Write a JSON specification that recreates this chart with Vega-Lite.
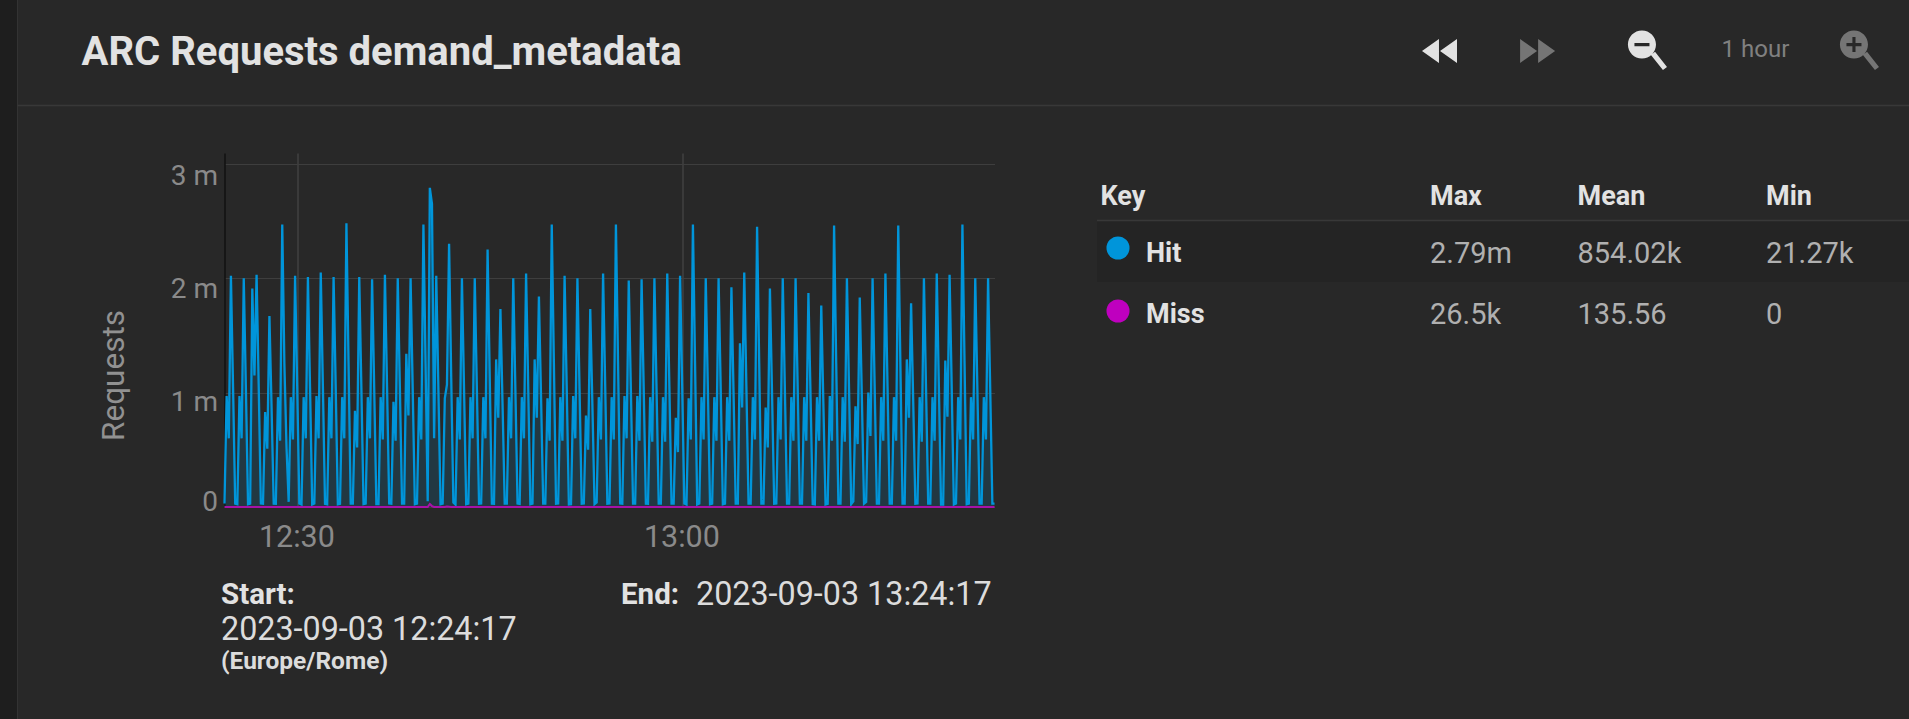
{"$schema":"https://vega.github.io/schema/vega-lite/v6.json","width":770,"height":354,"autosize":{"type":"none"},"padding":{"left":224.5,"top":153,"right":914.5,"bottom":212},"background":"#282828","view":{"stroke":null},"config":{"font":"Roboto"},
"datasets":{"series":[
{"t":"2023-09-03T12:24:17Z","hit":30000,"miss":0},{"t":"2023-09-03T12:24:27Z","hit":970000,"miss":0},{"t":"2023-09-03T12:24:37Z","hit":600000,"miss":0},{"t":"2023-09-03T12:24:47Z","hit":2020000,"miss":0},{"t":"2023-09-03T12:24:57Z","hit":1050000,"miss":0},{"t":"2023-09-03T12:25:07Z","hit":30000,"miss":0},
{"t":"2023-09-03T12:25:17Z","hit":25000,"miss":0},{"t":"2023-09-03T12:25:27Z","hit":970000,"miss":0},{"t":"2023-09-03T12:25:37Z","hit":600000,"miss":0},{"t":"2023-09-03T12:25:47Z","hit":2000000,"miss":0},{"t":"2023-09-03T12:25:57Z","hit":1040000,"miss":0},{"t":"2023-09-03T12:26:07Z","hit":24000,"miss":0},
{"t":"2023-09-03T12:26:17Z","hit":30000,"miss":0},{"t":"2023-09-03T12:26:27Z","hit":1910000,"miss":0},{"t":"2023-09-03T12:26:37Z","hit":1150000,"miss":0},{"t":"2023-09-03T12:26:47Z","hit":2030000,"miss":0},{"t":"2023-09-03T12:26:57Z","hit":1050000,"miss":0},{"t":"2023-09-03T12:27:07Z","hit":30000,"miss":0},
{"t":"2023-09-03T12:27:17Z","hit":28000,"miss":0},{"t":"2023-09-03T12:27:27Z","hit":830000,"miss":0},{"t":"2023-09-03T12:27:37Z","hit":510000,"miss":0},{"t":"2023-09-03T12:27:47Z","hit":1670000,"miss":0},{"t":"2023-09-03T12:27:57Z","hit":880000,"miss":0},{"t":"2023-09-03T12:28:07Z","hit":30000,"miss":0},
{"t":"2023-09-03T12:28:17Z","hit":29000,"miss":0},{"t":"2023-09-03T12:28:27Z","hit":960000,"miss":0},{"t":"2023-09-03T12:28:37Z","hit":580000,"miss":0},{"t":"2023-09-03T12:28:47Z","hit":2470000,"miss":0},{"t":"2023-09-03T12:28:57Z","hit":1250000,"miss":0},{"t":"2023-09-03T12:29:07Z","hit":520000,"miss":0},
{"t":"2023-09-03T12:29:17Z","hit":45000,"miss":0},{"t":"2023-09-03T12:29:27Z","hit":960000,"miss":0},{"t":"2023-09-03T12:29:37Z","hit":590000,"miss":0},{"t":"2023-09-03T12:29:47Z","hit":2020000,"miss":0},{"t":"2023-09-03T12:29:57Z","hit":1040000,"miss":0},{"t":"2023-09-03T12:30:07Z","hit":30000,"miss":0},
{"t":"2023-09-03T12:30:17Z","hit":22000,"miss":0},{"t":"2023-09-03T12:30:27Z","hit":960000,"miss":0},{"t":"2023-09-03T12:30:37Z","hit":600000,"miss":0},{"t":"2023-09-03T12:30:47Z","hit":2010000,"miss":0},{"t":"2023-09-03T12:30:57Z","hit":1040000,"miss":0},{"t":"2023-09-03T12:31:07Z","hit":22000,"miss":0},
{"t":"2023-09-03T12:31:17Z","hit":30000,"miss":0},{"t":"2023-09-03T12:31:27Z","hit":970000,"miss":0},{"t":"2023-09-03T12:31:37Z","hit":600000,"miss":0},{"t":"2023-09-03T12:31:47Z","hit":2050000,"miss":0},{"t":"2023-09-03T12:31:57Z","hit":1060000,"miss":0},{"t":"2023-09-03T12:32:07Z","hit":28000,"miss":0},
{"t":"2023-09-03T12:32:17Z","hit":23000,"miss":0},{"t":"2023-09-03T12:32:27Z","hit":960000,"miss":0},{"t":"2023-09-03T12:32:37Z","hit":600000,"miss":0},{"t":"2023-09-03T12:32:47Z","hit":2010000,"miss":0},{"t":"2023-09-03T12:32:57Z","hit":1040000,"miss":0},{"t":"2023-09-03T12:33:07Z","hit":23000,"miss":0},
{"t":"2023-09-03T12:33:17Z","hit":28000,"miss":0},{"t":"2023-09-03T12:33:27Z","hit":960000,"miss":0},{"t":"2023-09-03T12:33:37Z","hit":600000,"miss":0},{"t":"2023-09-03T12:33:47Z","hit":2480000,"miss":0},{"t":"2023-09-03T12:33:57Z","hit":1260000,"miss":0},{"t":"2023-09-03T12:34:07Z","hit":30000,"miss":0},
{"t":"2023-09-03T12:34:17Z","hit":30000,"miss":0},{"t":"2023-09-03T12:34:27Z","hit":840000,"miss":0},{"t":"2023-09-03T12:34:37Z","hit":520000,"miss":0},{"t":"2023-09-03T12:34:47Z","hit":2010000,"miss":0},{"t":"2023-09-03T12:34:57Z","hit":1040000,"miss":0},{"t":"2023-09-03T12:35:07Z","hit":26000,"miss":0},
{"t":"2023-09-03T12:35:17Z","hit":30000,"miss":0},{"t":"2023-09-03T12:35:27Z","hit":960000,"miss":0},{"t":"2023-09-03T12:35:37Z","hit":600000,"miss":0},{"t":"2023-09-03T12:35:47Z","hit":1990000,"miss":0},{"t":"2023-09-03T12:35:57Z","hit":1030000,"miss":0},{"t":"2023-09-03T12:36:07Z","hit":25000,"miss":0},
{"t":"2023-09-03T12:36:17Z","hit":25000,"miss":0},{"t":"2023-09-03T12:36:27Z","hit":960000,"miss":0},{"t":"2023-09-03T12:36:37Z","hit":590000,"miss":0},{"t":"2023-09-03T12:36:47Z","hit":2030000,"miss":0},{"t":"2023-09-03T12:36:57Z","hit":1050000,"miss":0},{"t":"2023-09-03T12:37:07Z","hit":30000,"miss":0},
{"t":"2023-09-03T12:37:17Z","hit":28000,"miss":0},{"t":"2023-09-03T12:37:27Z","hit":920000,"miss":0},{"t":"2023-09-03T12:37:37Z","hit":580000,"miss":0},{"t":"2023-09-03T12:37:47Z","hit":2000000,"miss":0},{"t":"2023-09-03T12:37:57Z","hit":1040000,"miss":0},{"t":"2023-09-03T12:38:07Z","hit":30000,"miss":0},
{"t":"2023-09-03T12:38:17Z","hit":30000,"miss":0},{"t":"2023-09-03T12:38:27Z","hit":1340000,"miss":0},{"t":"2023-09-03T12:38:37Z","hit":800000,"miss":0},{"t":"2023-09-03T12:38:47Z","hit":2000000,"miss":0},{"t":"2023-09-03T12:38:57Z","hit":1030000,"miss":0},{"t":"2023-09-03T12:39:07Z","hit":25000,"miss":0},
{"t":"2023-09-03T12:39:17Z","hit":30000,"miss":0},{"t":"2023-09-03T12:39:27Z","hit":960000,"miss":0},{"t":"2023-09-03T12:39:37Z","hit":590000,"miss":0},{"t":"2023-09-03T12:39:47Z","hit":2470000,"miss":0},{"t":"2023-09-03T12:39:57Z","hit":1260000,"miss":0},{"t":"2023-09-03T12:40:07Z","hit":50000,"miss":0},
{"t":"2023-09-03T12:40:17Z","hit":2790000,"miss":26500},{"t":"2023-09-03T12:40:27Z","hit":2650000,"miss":8000},{"t":"2023-09-03T12:40:37Z","hit":600000,"miss":0},{"t":"2023-09-03T12:40:47Z","hit":2020000,"miss":0},{"t":"2023-09-03T12:40:57Z","hit":1040000,"miss":0},{"t":"2023-09-03T12:41:07Z","hit":25000,"miss":0},
{"t":"2023-09-03T12:41:17Z","hit":30000,"miss":0},{"t":"2023-09-03T12:41:27Z","hit":950000,"miss":0},{"t":"2023-09-03T12:41:37Z","hit":1070000,"miss":4000},{"t":"2023-09-03T12:41:47Z","hit":2300000,"miss":3000},{"t":"2023-09-03T12:41:57Z","hit":1130000,"miss":0},{"t":"2023-09-03T12:42:07Z","hit":40000,"miss":0},
{"t":"2023-09-03T12:42:17Z","hit":22000,"miss":0},{"t":"2023-09-03T12:42:27Z","hit":960000,"miss":0},{"t":"2023-09-03T12:42:37Z","hit":590000,"miss":0},{"t":"2023-09-03T12:42:47Z","hit":2000000,"miss":0},{"t":"2023-09-03T12:42:57Z","hit":1030000,"miss":0},{"t":"2023-09-03T12:43:07Z","hit":24000,"miss":0},
{"t":"2023-09-03T12:43:17Z","hit":30000,"miss":0},{"t":"2023-09-03T12:43:27Z","hit":960000,"miss":0},{"t":"2023-09-03T12:43:37Z","hit":600000,"miss":0},{"t":"2023-09-03T12:43:47Z","hit":2000000,"miss":0},{"t":"2023-09-03T12:43:57Z","hit":1030000,"miss":0},{"t":"2023-09-03T12:44:07Z","hit":28000,"miss":0},
{"t":"2023-09-03T12:44:17Z","hit":30000,"miss":0},{"t":"2023-09-03T12:44:27Z","hit":960000,"miss":0},{"t":"2023-09-03T12:44:37Z","hit":600000,"miss":0},{"t":"2023-09-03T12:44:47Z","hit":2250000,"miss":0},{"t":"2023-09-03T12:44:57Z","hit":1140000,"miss":0},{"t":"2023-09-03T12:45:07Z","hit":30000,"miss":0},
{"t":"2023-09-03T12:45:17Z","hit":29000,"miss":0},{"t":"2023-09-03T12:45:27Z","hit":1290000,"miss":0},{"t":"2023-09-03T12:45:37Z","hit":780000,"miss":0},{"t":"2023-09-03T12:45:47Z","hit":1730000,"miss":0},{"t":"2023-09-03T12:45:57Z","hit":900000,"miss":0},{"t":"2023-09-03T12:46:07Z","hit":30000,"miss":0},
{"t":"2023-09-03T12:46:17Z","hit":30000,"miss":0},{"t":"2023-09-03T12:46:27Z","hit":960000,"miss":0},{"t":"2023-09-03T12:46:37Z","hit":600000,"miss":0},{"t":"2023-09-03T12:46:47Z","hit":2000000,"miss":0},{"t":"2023-09-03T12:46:57Z","hit":1030000,"miss":0},{"t":"2023-09-03T12:47:07Z","hit":30000,"miss":0},
{"t":"2023-09-03T12:47:17Z","hit":27000,"miss":0},{"t":"2023-09-03T12:47:27Z","hit":960000,"miss":0},{"t":"2023-09-03T12:47:37Z","hit":600000,"miss":0},{"t":"2023-09-03T12:47:47Z","hit":2040000,"miss":0},{"t":"2023-09-03T12:47:57Z","hit":1050000,"miss":0},{"t":"2023-09-03T12:48:07Z","hit":25000,"miss":0},
{"t":"2023-09-03T12:48:17Z","hit":30000,"miss":0},{"t":"2023-09-03T12:48:27Z","hit":1290000,"miss":0},{"t":"2023-09-03T12:48:37Z","hit":780000,"miss":0},{"t":"2023-09-03T12:48:47Z","hit":1840000,"miss":0},{"t":"2023-09-03T12:48:57Z","hit":960000,"miss":0},{"t":"2023-09-03T12:49:07Z","hit":30000,"miss":0},
{"t":"2023-09-03T12:49:17Z","hit":30000,"miss":0},{"t":"2023-09-03T12:49:27Z","hit":950000,"miss":0},{"t":"2023-09-03T12:49:37Z","hit":580000,"miss":0},{"t":"2023-09-03T12:49:47Z","hit":2470000,"miss":0},{"t":"2023-09-03T12:49:57Z","hit":1260000,"miss":0},{"t":"2023-09-03T12:50:07Z","hit":28000,"miss":0},
{"t":"2023-09-03T12:50:17Z","hit":30000,"miss":0},{"t":"2023-09-03T12:50:27Z","hit":960000,"miss":0},{"t":"2023-09-03T12:50:37Z","hit":580000,"miss":0},{"t":"2023-09-03T12:50:47Z","hit":2020000,"miss":0},{"t":"2023-09-03T12:50:57Z","hit":1040000,"miss":0},{"t":"2023-09-03T12:51:07Z","hit":22000,"miss":0},
{"t":"2023-09-03T12:51:17Z","hit":24000,"miss":0},{"t":"2023-09-03T12:51:27Z","hit":970000,"miss":0},{"t":"2023-09-03T12:51:37Z","hit":600000,"miss":0},{"t":"2023-09-03T12:51:47Z","hit":2000000,"miss":0},{"t":"2023-09-03T12:51:57Z","hit":1030000,"miss":0},{"t":"2023-09-03T12:52:07Z","hit":28000,"miss":0},
{"t":"2023-09-03T12:52:17Z","hit":30000,"miss":0},{"t":"2023-09-03T12:52:27Z","hit":800000,"miss":0},{"t":"2023-09-03T12:52:37Z","hit":500000,"miss":0},{"t":"2023-09-03T12:52:47Z","hit":1730000,"miss":0},{"t":"2023-09-03T12:52:57Z","hit":900000,"miss":0},{"t":"2023-09-03T12:53:07Z","hit":25000,"miss":0},
{"t":"2023-09-03T12:53:17Z","hit":40000,"miss":0},{"t":"2023-09-03T12:53:27Z","hit":960000,"miss":0},{"t":"2023-09-03T12:53:37Z","hit":590000,"miss":0},{"t":"2023-09-03T12:53:47Z","hit":2040000,"miss":0},{"t":"2023-09-03T12:53:57Z","hit":1050000,"miss":0},{"t":"2023-09-03T12:54:07Z","hit":28000,"miss":0},
{"t":"2023-09-03T12:54:17Z","hit":30000,"miss":0},{"t":"2023-09-03T12:54:27Z","hit":960000,"miss":0},{"t":"2023-09-03T12:54:37Z","hit":590000,"miss":0},{"t":"2023-09-03T12:54:47Z","hit":2470000,"miss":0},{"t":"2023-09-03T12:54:57Z","hit":1260000,"miss":0},{"t":"2023-09-03T12:55:07Z","hit":30000,"miss":0},
{"t":"2023-09-03T12:55:17Z","hit":28000,"miss":0},{"t":"2023-09-03T12:55:27Z","hit":970000,"miss":0},{"t":"2023-09-03T12:55:37Z","hit":600000,"miss":0},{"t":"2023-09-03T12:55:47Z","hit":1980000,"miss":0},{"t":"2023-09-03T12:55:57Z","hit":1020000,"miss":0},{"t":"2023-09-03T12:56:07Z","hit":30000,"miss":0},
{"t":"2023-09-03T12:56:17Z","hit":30000,"miss":0},{"t":"2023-09-03T12:56:27Z","hit":970000,"miss":0},{"t":"2023-09-03T12:56:37Z","hit":580000,"miss":0},{"t":"2023-09-03T12:56:47Z","hit":1990000,"miss":0},{"t":"2023-09-03T12:56:57Z","hit":1030000,"miss":0},{"t":"2023-09-03T12:57:07Z","hit":30000,"miss":0},
{"t":"2023-09-03T12:57:17Z","hit":29000,"miss":0},{"t":"2023-09-03T12:57:27Z","hit":960000,"miss":0},{"t":"2023-09-03T12:57:37Z","hit":570000,"miss":0},{"t":"2023-09-03T12:57:47Z","hit":2000000,"miss":0},{"t":"2023-09-03T12:57:57Z","hit":1030000,"miss":0},{"t":"2023-09-03T12:58:07Z","hit":30000,"miss":0},
{"t":"2023-09-03T12:58:17Z","hit":30000,"miss":0},{"t":"2023-09-03T12:58:27Z","hit":960000,"miss":0},{"t":"2023-09-03T12:58:37Z","hit":570000,"miss":0},{"t":"2023-09-03T12:58:47Z","hit":2040000,"miss":0},{"t":"2023-09-03T12:58:57Z","hit":1050000,"miss":0},{"t":"2023-09-03T12:59:07Z","hit":30000,"miss":0},
{"t":"2023-09-03T12:59:17Z","hit":30000,"miss":0},{"t":"2023-09-03T12:59:27Z","hit":780000,"miss":0},{"t":"2023-09-03T12:59:37Z","hit":480000,"miss":0},{"t":"2023-09-03T12:59:47Z","hit":2020000,"miss":0},{"t":"2023-09-03T12:59:57Z","hit":1040000,"miss":0},{"t":"2023-09-03T13:00:07Z","hit":30000,"miss":0},
{"t":"2023-09-03T13:00:17Z","hit":22000,"miss":0},{"t":"2023-09-03T13:00:27Z","hit":950000,"miss":0},{"t":"2023-09-03T13:00:37Z","hit":590000,"miss":0},{"t":"2023-09-03T13:00:47Z","hit":2470000,"miss":0},{"t":"2023-09-03T13:00:57Z","hit":1260000,"miss":0},{"t":"2023-09-03T13:01:07Z","hit":22000,"miss":0},
{"t":"2023-09-03T13:01:17Z","hit":30000,"miss":0},{"t":"2023-09-03T13:01:27Z","hit":960000,"miss":0},{"t":"2023-09-03T13:01:37Z","hit":590000,"miss":0},{"t":"2023-09-03T13:01:47Z","hit":2000000,"miss":0},{"t":"2023-09-03T13:01:57Z","hit":1030000,"miss":0},{"t":"2023-09-03T13:02:07Z","hit":25000,"miss":0},
{"t":"2023-09-03T13:02:17Z","hit":30000,"miss":0},{"t":"2023-09-03T13:02:27Z","hit":960000,"miss":0},{"t":"2023-09-03T13:02:37Z","hit":580000,"miss":0},{"t":"2023-09-03T13:02:47Z","hit":2000000,"miss":0},{"t":"2023-09-03T13:02:57Z","hit":1030000,"miss":0},{"t":"2023-09-03T13:03:07Z","hit":25000,"miss":0},
{"t":"2023-09-03T13:03:17Z","hit":30000,"miss":0},{"t":"2023-09-03T13:03:27Z","hit":960000,"miss":0},{"t":"2023-09-03T13:03:37Z","hit":580000,"miss":0},{"t":"2023-09-03T13:03:47Z","hit":1920000,"miss":0},{"t":"2023-09-03T13:03:57Z","hit":1000000,"miss":0},{"t":"2023-09-03T13:04:07Z","hit":30000,"miss":0},
{"t":"2023-09-03T13:04:17Z","hit":30000,"miss":0},{"t":"2023-09-03T13:04:27Z","hit":1430000,"miss":0},{"t":"2023-09-03T13:04:37Z","hit":870000,"miss":0},{"t":"2023-09-03T13:04:47Z","hit":2050000,"miss":0},{"t":"2023-09-03T13:04:57Z","hit":1050000,"miss":0},{"t":"2023-09-03T13:05:07Z","hit":30000,"miss":0},
{"t":"2023-09-03T13:05:17Z","hit":30000,"miss":0},{"t":"2023-09-03T13:05:27Z","hit":960000,"miss":0},{"t":"2023-09-03T13:05:37Z","hit":590000,"miss":0},{"t":"2023-09-03T13:05:47Z","hit":2450000,"miss":0},{"t":"2023-09-03T13:05:57Z","hit":1250000,"miss":0},{"t":"2023-09-03T13:06:07Z","hit":30000,"miss":0},
{"t":"2023-09-03T13:06:17Z","hit":30000,"miss":0},{"t":"2023-09-03T13:06:27Z","hit":870000,"miss":0},{"t":"2023-09-03T13:06:37Z","hit":520000,"miss":0},{"t":"2023-09-03T13:06:47Z","hit":1910000,"miss":0},{"t":"2023-09-03T13:06:57Z","hit":990000,"miss":0},{"t":"2023-09-03T13:07:07Z","hit":28000,"miss":0},
{"t":"2023-09-03T13:07:17Z","hit":30000,"miss":0},{"t":"2023-09-03T13:07:27Z","hit":960000,"miss":0},{"t":"2023-09-03T13:07:37Z","hit":590000,"miss":0},{"t":"2023-09-03T13:07:47Z","hit":2000000,"miss":0},{"t":"2023-09-03T13:07:57Z","hit":1030000,"miss":0},{"t":"2023-09-03T13:08:07Z","hit":30000,"miss":0},
{"t":"2023-09-03T13:08:17Z","hit":30000,"miss":0},{"t":"2023-09-03T13:08:27Z","hit":960000,"miss":0},{"t":"2023-09-03T13:08:37Z","hit":580000,"miss":0},{"t":"2023-09-03T13:08:47Z","hit":2000000,"miss":0},{"t":"2023-09-03T13:08:57Z","hit":1030000,"miss":0},{"t":"2023-09-03T13:09:07Z","hit":30000,"miss":0},
{"t":"2023-09-03T13:09:17Z","hit":30000,"miss":0},{"t":"2023-09-03T13:09:27Z","hit":960000,"miss":0},{"t":"2023-09-03T13:09:37Z","hit":580000,"miss":0},{"t":"2023-09-03T13:09:47Z","hit":1870000,"miss":0},{"t":"2023-09-03T13:09:57Z","hit":970000,"miss":0},{"t":"2023-09-03T13:10:07Z","hit":25000,"miss":0},
{"t":"2023-09-03T13:10:17Z","hit":22000,"miss":0},{"t":"2023-09-03T13:10:27Z","hit":960000,"miss":0},{"t":"2023-09-03T13:10:37Z","hit":580000,"miss":0},{"t":"2023-09-03T13:10:47Z","hit":1760000,"miss":0},{"t":"2023-09-03T13:10:57Z","hit":900000,"miss":0},{"t":"2023-09-03T13:11:07Z","hit":22000,"miss":0},
{"t":"2023-09-03T13:11:17Z","hit":28000,"miss":0},{"t":"2023-09-03T13:11:27Z","hit":970000,"miss":0},{"t":"2023-09-03T13:11:37Z","hit":580000,"miss":0},{"t":"2023-09-03T13:11:47Z","hit":2460000,"miss":0},{"t":"2023-09-03T13:11:57Z","hit":1250000,"miss":0},{"t":"2023-09-03T13:12:07Z","hit":30000,"miss":0},
{"t":"2023-09-03T13:12:17Z","hit":30000,"miss":0},{"t":"2023-09-03T13:12:27Z","hit":960000,"miss":0},{"t":"2023-09-03T13:12:37Z","hit":570000,"miss":0},{"t":"2023-09-03T13:12:47Z","hit":2000000,"miss":0},{"t":"2023-09-03T13:12:57Z","hit":1030000,"miss":0},{"t":"2023-09-03T13:13:07Z","hit":25000,"miss":0},
{"t":"2023-09-03T13:13:17Z","hit":50000,"miss":0},{"t":"2023-09-03T13:13:27Z","hit":880000,"miss":0},{"t":"2023-09-03T13:13:37Z","hit":550000,"miss":0},{"t":"2023-09-03T13:13:47Z","hit":1830000,"miss":0},{"t":"2023-09-03T13:13:57Z","hit":950000,"miss":0},{"t":"2023-09-03T13:14:07Z","hit":30000,"miss":0},
{"t":"2023-09-03T13:14:17Z","hit":45000,"miss":0},{"t":"2023-09-03T13:14:27Z","hit":1000000,"miss":0},{"t":"2023-09-03T13:14:37Z","hit":620000,"miss":0},{"t":"2023-09-03T13:14:47Z","hit":2000000,"miss":0},{"t":"2023-09-03T13:14:57Z","hit":1030000,"miss":0},{"t":"2023-09-03T13:15:07Z","hit":30000,"miss":0},
{"t":"2023-09-03T13:15:17Z","hit":30000,"miss":0},{"t":"2023-09-03T13:15:27Z","hit":960000,"miss":0},{"t":"2023-09-03T13:15:37Z","hit":580000,"miss":0},{"t":"2023-09-03T13:15:47Z","hit":2040000,"miss":0},{"t":"2023-09-03T13:15:57Z","hit":1050000,"miss":0},{"t":"2023-09-03T13:16:07Z","hit":30000,"miss":0},
{"t":"2023-09-03T13:16:17Z","hit":30000,"miss":0},{"t":"2023-09-03T13:16:27Z","hit":960000,"miss":0},{"t":"2023-09-03T13:16:37Z","hit":580000,"miss":0},{"t":"2023-09-03T13:16:47Z","hit":2460000,"miss":0},{"t":"2023-09-03T13:16:57Z","hit":1250000,"miss":0},{"t":"2023-09-03T13:17:07Z","hit":30000,"miss":0},
{"t":"2023-09-03T13:17:17Z","hit":30000,"miss":0},{"t":"2023-09-03T13:17:27Z","hit":1290000,"miss":0},{"t":"2023-09-03T13:17:37Z","hit":780000,"miss":0},{"t":"2023-09-03T13:17:47Z","hit":1780000,"miss":0},{"t":"2023-09-03T13:17:57Z","hit":920000,"miss":0},{"t":"2023-09-03T13:18:07Z","hit":28000,"miss":0},
{"t":"2023-09-03T13:18:17Z","hit":30000,"miss":0},{"t":"2023-09-03T13:18:27Z","hit":960000,"miss":0},{"t":"2023-09-03T13:18:37Z","hit":570000,"miss":0},{"t":"2023-09-03T13:18:47Z","hit":2000000,"miss":0},{"t":"2023-09-03T13:18:57Z","hit":1030000,"miss":0},{"t":"2023-09-03T13:19:07Z","hit":30000,"miss":0},
{"t":"2023-09-03T13:19:17Z","hit":30000,"miss":0},{"t":"2023-09-03T13:19:27Z","hit":960000,"miss":0},{"t":"2023-09-03T13:19:37Z","hit":580000,"miss":0},{"t":"2023-09-03T13:19:47Z","hit":2040000,"miss":0},{"t":"2023-09-03T13:19:57Z","hit":1050000,"miss":0},{"t":"2023-09-03T13:20:07Z","hit":22000,"miss":0},
{"t":"2023-09-03T13:20:17Z","hit":22000,"miss":0},{"t":"2023-09-03T13:20:27Z","hit":1280000,"miss":0},{"t":"2023-09-03T13:20:37Z","hit":790000,"miss":0},{"t":"2023-09-03T13:20:47Z","hit":2030000,"miss":0},{"t":"2023-09-03T13:20:57Z","hit":1040000,"miss":0},{"t":"2023-09-03T13:21:07Z","hit":22000,"miss":0},
{"t":"2023-09-03T13:21:17Z","hit":30000,"miss":0},{"t":"2023-09-03T13:21:27Z","hit":960000,"miss":0},{"t":"2023-09-03T13:21:37Z","hit":590000,"miss":0},{"t":"2023-09-03T13:21:47Z","hit":2470000,"miss":0},{"t":"2023-09-03T13:21:57Z","hit":1260000,"miss":0},{"t":"2023-09-03T13:22:07Z","hit":24000,"miss":0},
{"t":"2023-09-03T13:22:17Z","hit":30000,"miss":0},{"t":"2023-09-03T13:22:27Z","hit":960000,"miss":0},{"t":"2023-09-03T13:22:37Z","hit":590000,"miss":0},{"t":"2023-09-03T13:22:47Z","hit":2000000,"miss":0},{"t":"2023-09-03T13:22:57Z","hit":1030000,"miss":0},{"t":"2023-09-03T13:23:07Z","hit":30000,"miss":0},
{"t":"2023-09-03T13:23:17Z","hit":30000,"miss":0},{"t":"2023-09-03T13:23:27Z","hit":960000,"miss":0},{"t":"2023-09-03T13:23:37Z","hit":590000,"miss":0},{"t":"2023-09-03T13:23:47Z","hit":2000000,"miss":0},{"t":"2023-09-03T13:23:57Z","hit":1030000,"miss":0},{"t":"2023-09-03T13:24:07Z","hit":30000,"miss":0},
{"t":"2023-09-03T13:24:17Z","hit":30000,"miss":0}
],
"ui":[
{"kind":"strip","col":0,"row":0,"row2":12},
{"kind":"edge","col":1,"row":0,"row2":12},
{"kind":"hrule","col":1,"col2":18,"row":2},
{"kind":"hrule","col":6,"col2":18,"row":4},
{"kind":"hitrow","col":6,"col2":18,"row":6},
{"kind":"title","col":2,"row":1,"text":"ARC Requests demand_metadata"},
{"kind":"range","col":15,"row":1,"text":"1 hour"},
{"kind":"back","col":11,"row":1},
{"kind":"forward","col":12,"row":1},
{"kind":"zoomout","col":14,"row":1},
{"kind":"zoomin","col":17,"row":1},
{"kind":"bold","col":7,"row":3,"text":"Key"},
{"kind":"bold","col":10,"row":3,"text":"Max"},
{"kind":"bold","col":13,"row":3,"text":"Mean"},
{"kind":"bold","col":16,"row":3,"text":"Min"},
{"kind":"bold","col":9,"row":6,"text":"Hit"},
{"kind":"bold","col":9,"row":8,"text":"Miss"},
{"kind":"value","col":10,"row":6,"text":"2.79m"},
{"kind":"value","col":13,"row":6,"text":"854.02k"},
{"kind":"value","col":16,"row":6,"text":"21.27k"},
{"kind":"value","col":10,"row":8,"text":"26.5k"},
{"kind":"value","col":13,"row":8,"text":"135.56"},
{"kind":"value","col":16,"row":8,"text":"0"},
{"kind":"hitdot","col":8,"row":5},
{"kind":"missdot","col":8,"row":7},
{"kind":"footbold","col":3,"row":9,"text":"Start:"},
{"kind":"date","col":3,"row":10,"text":"2023-09-03 12:24:17"},
{"kind":"zone","col":3,"row":11,"text":"(Europe/Rome)"},
{"kind":"footbold","col":4,"row":9,"text":"End:"},
{"kind":"date","col":5,"row":9,"text":"2023-09-03 13:24:17"}
]},
"layer":[
{"data":{"name":"series"},
"encoding":{"x":{"field":"t","type":"temporal","title":null,"scale":{"type":"utc","nice":false},"axis":{"values":[{"year":2023,"month":9,"date":3,"hours":12,"minutes":30,"utc":true},{"year":2023,"month":9,"date":3,"hours":13,"minutes":0,"utc":true}],"format":"%H:%M","grid":true,"gridColor":"#474747","gridWidth":1.2,"domain":false,"ticks":false,"labelColor":"#8a8a8a","labelFont":"Roboto","labelFontSize":30.5,"labelPadding":15,"labelBaseline":"top","labelFlush":false,"labelOffset":-1.5}}},
"layer":[
{"mark":{"type":"area","color":"#0095da","opacity":0.15},"encoding":{"y":{"field":"hit","type":"quantitative","title":"Requests","scale":{"domain":[0,3094000],"nice":false},"axis":{"values":[0,1000000,2000000,3000000],"labelExpr":"datum.value==0?'0':(datum.value/1000000)+' m'","grid":true,"gridColor":"#3e3e3e","gridWidth":1.2,"domain":true,"domainColor":"#111111","domainWidth":1.5,"ticks":false,"labelColor":"#8a8a8a","labelFont":"Roboto","labelFontSize":28,"labelPadding":7,"labelOffset":{"condition":[{"test":"datum.value==0","value":-5},{"test":"datum.value==1000000","value":10},{"test":"datum.value==2000000","value":11.5}],"value":13},"titleColor":"#919191","titleFont":"Roboto","titleFontSize":31.5,"titleFontWeight":"normal","titleAngle":-90,"titleAlign":"center","titleBaseline":"middle","titleX":-110.5,"titleY":222}}}},
{"mark":{"type":"line","color":"#0095da","strokeWidth":2.3},"encoding":{"y":{"field":"hit","type":"quantitative"}}},
{"mark":{"type":"line","color":"#a812a8","strokeWidth":2},"encoding":{"y":{"field":"miss","type":"quantitative"}}}
]},
{"data":{"name":"ui"},
"encoding":{"x":{"field":"col","type":"quantitative","axis":null,"scale":{"domain":[0,1,2,3,4,5,6,7,8,9,10,11,12,13,14,15,16,17,18],"range":[-216,-207,-142.9,-3.5,396.5,471.5,872.5,876,893.5,921.5,1205.5,1215,1313.1,1353,1423.5,1497.1,1541.5,1635.5,1684.5]}},
"y":{"field":"row","type":"quantitative","axis":null,"scale":{"domain":[0,1,2,3,4,5,6,7,8,9,10,11,12],"range":[-153,-102,-47.5,41.5,67.5,95,98.5,158,160,442,477,509,566]}}},
"layer":[
{"transform":[{"filter":"datum.kind=='strip'"}],"mark":{"type":"rule","color":"#1e1e1e","strokeWidth":17},"encoding":{"y2":{"field":"row2"}}},
{"transform":[{"filter":"datum.kind=='edge'"}],"mark":{"type":"rule","color":"#333333","strokeWidth":1},"encoding":{"y2":{"field":"row2"}}},
{"transform":[{"filter":"datum.kind=='hitrow'"}],"mark":{"type":"rule","color":"#242424","strokeWidth":61},"encoding":{"x2":{"field":"col2"}}},
{"transform":[{"filter":"datum.kind=='hrule'"}],"mark":{"type":"rule","color":"#383838","strokeWidth":1.5},"encoding":{"x2":{"field":"col2"}}},
{"transform":[{"filter":"datum.kind=='title'"}],"mark":{"type":"text","align":"left","baseline":"middle","dy":2,"font":"Roboto","fontWeight":"bold","fontSize":40,"color":"#e2e2e2"},"encoding":{"text":{"field":"text"}}},
{"transform":[{"filter":"datum.kind=='range'"}],"mark":{"type":"text","align":"left","baseline":"middle","dy":-1,"font":"Roboto","fontSize":24,"color":"#808080"},"encoding":{"text":{"field":"text"}}},
{"transform":[{"filter":"datum.kind=='bold'"}],"mark":{"type":"text","align":"left","baseline":"middle","dy":2,"font":"Roboto","fontWeight":"bold","fontSize":27,"color":"#e2e2e2"},"encoding":{"text":{"field":"text"}}},
{"transform":[{"filter":"datum.kind=='footbold'"}],"mark":{"type":"text","align":"left","baseline":"middle","font":"Roboto","fontWeight":"bold","fontSize":29.5,"color":"#e2e2e2"},"encoding":{"text":{"field":"text"}}},
{"transform":[{"filter":"datum.kind=='value'"}],"mark":{"type":"text","align":"left","baseline":"middle","dy":2,"font":"Roboto","fontSize":29,"color":"#b0b0b0"},"encoding":{"text":{"field":"text"}}},
{"transform":[{"filter":"datum.kind=='date'"}],"mark":{"type":"text","align":"left","baseline":"middle","font":"Roboto","fontSize":32.3,"color":"#dcdcdc"},"encoding":{"text":{"field":"text"}}},
{"transform":[{"filter":"datum.kind=='zone'"}],"mark":{"type":"text","align":"left","baseline":"middle","font":"Roboto","fontWeight":"bold","fontSize":24.5,"color":"#dcdcdc"},"encoding":{"text":{"field":"text"}}},
{"transform":[{"filter":"datum.kind=='hitdot'"}],"mark":{"type":"point","shape":"circle","filled":true,"opacity":1,"size":530,"color":"#0095da"}},
{"transform":[{"filter":"datum.kind=='missdot'"}],"mark":{"type":"point","shape":"circle","filled":true,"opacity":1,"size":530,"color":"#bf00bf"}},
{"transform":[{"filter":"datum.kind=='back'"}],"mark":{"type":"point","filled":true,"opacity":1,"size":1225,"color":"#e2e2e2","shape":"M-1,0L-0.03,-0.686L-0.03,0.686ZM0.03,0L1,-0.686L1,0.686Z"}},
{"transform":[{"filter":"datum.kind=='forward'"}],"mark":{"type":"point","filled":true,"opacity":1,"size":1225,"color":"#757575","shape":"M1,0L0.03,-0.686L0.03,0.686ZM-0.03,0L-1,-0.686L-1,0.686Z"}},
{"transform":[{"filter":"datum.kind=='zoomout'"}],"mark":{"type":"point","filled":true,"opacity":1,"size":1521,"color":"#e2e2e2","shape":"M-1.03,-0.33A0.72,0.72 0 1 0 0.41,-0.33A0.72,0.72 0 1 0 -1.03,-0.33ZM-0.695,-0.41L0.075,-0.41L0.075,-0.25L-0.695,-0.25ZM0.766,0.978L0.974,0.822L0.36,0.04L0.15,0.2Z"}},
{"transform":[{"filter":"datum.kind=='zoomin'"}],"mark":{"type":"point","filled":true,"opacity":1,"size":1521,"color":"#757575","shape":"M-1.03,-0.33A0.72,0.72 0 1 0 0.41,-0.33A0.72,0.72 0 1 0 -1.03,-0.33ZM-0.39,-0.715L-0.23,-0.715L-0.23,-0.41L0.075,-0.41L0.075,-0.25L-0.23,-0.25L-0.23,0.055L-0.39,0.055L-0.39,-0.25L-0.695,-0.25L-0.695,-0.41L-0.39,-0.41ZM0.766,0.978L0.974,0.822L0.36,0.04L0.15,0.2Z"}}
]}
],
"resolve":{"scale":{"x":"independent","y":"independent"},"axis":{"x":"independent","y":"independent"}}}
